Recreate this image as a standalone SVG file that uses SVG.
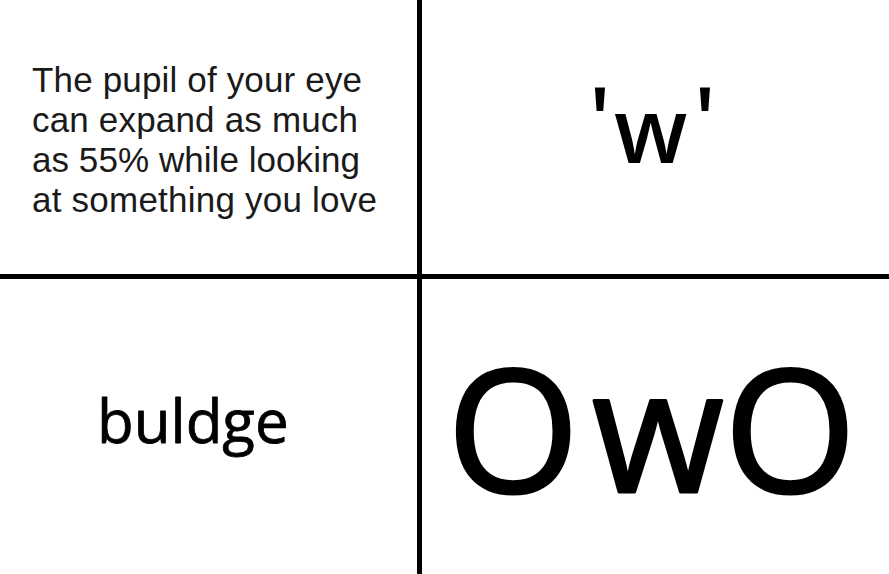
<svg xmlns="http://www.w3.org/2000/svg" width="889" height="574" viewBox="0 0 889 574">
<style>
.fact{font-family:"Liberation Sans",Arial,sans-serif;font-size:35px;fill:#1a1a1a}
.comic{font-family:"Open Sans","Noto Sans",sans-serif;fill:#000}
.heavy{stroke:#000;stroke-width:3;stroke-linejoin:round}
.div{fill:#000}
</style>
<rect width="889" height="574" fill="#fff"/>
<g id="panel-fact">
<text class="fact" x="32" y="92" textLength="330">The pupil of your eye</text>
<text class="fact" x="32" y="132" textLength="326">can expand as much</text>
<text class="fact" x="32" y="172" textLength="328">as 55% while looking</text>
<text class="fact" x="32" y="212" textLength="345">at something you love</text>
</g>
<g id="panel-w">
<text class="comic" font-size="90" font-weight="600" y="163"><tspan x="589" dy="-11">'</tspan><tspan x="614" dy="11">w</tspan><tspan x="694" dy="-11">'</tspan></text>
</g>
<g id="panel-buldge">
<text class="comic heavy" font-size="60" x="97" y="443" style="stroke-width:0.8">buldge</text>
</g>
<g id="panel-owo">
<text class="comic heavy" font-size="170" y="492"><tspan x="447">O</tspan><tspan x="592">w</tspan><tspan x="724">O</tspan></text>
</g>
<g id="dividers">
<rect class="div" x="417" y="0" width="5" height="574"/>
<rect class="div" x="0" y="274" width="889" height="5"/>
</g>
</svg>
